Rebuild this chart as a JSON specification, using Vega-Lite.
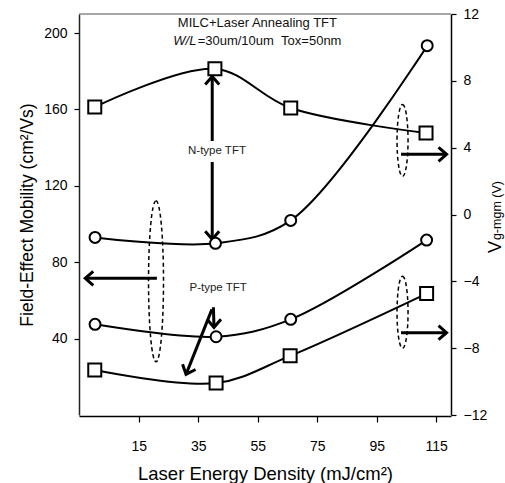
{
  "$schema": "https://vega.github.io/schema/vega-lite/v6.json",
  "width": 372,
  "height": 401,
  "autosize": {"type": "none"},
  "padding": {"left": 79, "top": 14, "right": 54, "bottom": 68},
  "config": {
    "view": {"stroke": null},
    "font": "Liberation Sans",
    "axis": {"grid": false, "domainColor": "#000", "tickColor": "#000", "labelColor": "#000", "titleColor": "#000", "labelFont": "Liberation Sans", "titleFont": "Liberation Sans", "titleFontWeight": "normal", "labelFontSize": 14, "domainWidth": 1.5, "tickWidth": 1.2}
  },
  "datasets": {
    "series": [
      {"x": 0.3, "y": 93.0, "type": "mobility", "device": "N"},
      {"x": 40.8, "y": 89.9, "type": "mobility", "device": "N"},
      {"x": 66.1, "y": 101.9, "type": "mobility", "device": "N"},
      {"x": 112.0, "y": 193.4, "type": "mobility", "device": "N"},
      {"x": 0.3, "y": 47.5, "type": "mobility", "device": "P"},
      {"x": 41.0, "y": 41.0, "type": "mobility", "device": "P"},
      {"x": 66.1, "y": 50.1, "type": "mobility", "device": "P"},
      {"x": 111.8, "y": 91.6, "type": "mobility", "device": "P"},
      {"x": 0.2, "y": 6.43, "type": "vg", "device": "N"},
      {"x": 40.6, "y": 8.72, "type": "vg", "device": "N"},
      {"x": 66.1, "y": 6.37, "type": "vg", "device": "N"},
      {"x": 111.6, "y": 4.88, "type": "vg", "device": "N"},
      {"x": 0.2, "y": -9.31, "type": "vg", "device": "P"},
      {"x": 41.0, "y": -10.09, "type": "vg", "device": "P"},
      {"x": 65.9, "y": -8.46, "type": "vg", "device": "P"},
      {"x": 111.8, "y": -4.73, "type": "vg", "device": "P"}
    ],
    "frametop": [
      {"x": -5.1, "y": 210, "x2": 120, "y2": 210}
    ],
    "arrows": [
      {"x": 39.7, "y": 177.3, "x2": 39.7, "y2": 143.5, "dir": "up"},
      {"x": 39.7, "y": 92.0, "x2": 39.7, "y2": 132.5, "dir": "down"},
      {"x": -3.0, "y": 71.6, "x2": 21.1, "y2": 71.6, "dir": "left"},
      {"x": 118.5, "y": 136.5, "x2": 103.2, "y2": 136.5, "dir": "right"},
      {"x": 118.5, "y": 43.1, "x2": 103.2, "y2": 43.1, "dir": "right"},
      {"x": 40.3, "y": 45.9, "x2": 40.1, "y2": 56.4, "dir": "down"},
      {"x": 30.9, "y": 21.3, "x2": 39.6, "y2": 55.3, "dir": "downleft"}
    ],
    "ellipses": [
      {"x": 20.8, "y": 70.0, "kind": "big"},
      {"x": 103.7, "y": 143.8, "kind": "small"},
      {"x": 103.7, "y": 53.8, "kind": "small"}
    ],
    "labels": [
      {"x": 54.9, "y": 205.3, "text": "MILC+Laser Annealing TFT", "kind": "head"},
      {"x": 34.4, "y": 196.0, "text": "W/L", "kind": "italic"},
      {"x": 34.8, "y": 196.0, "text": "=30um/10um \u00a0Tox=50nm", "kind": "headleft"},
      {"x": 41.3, "y": 138.5, "text": "N-type TFT", "kind": "label"},
      {"x": 41.7, "y": 66.5, "text": "P-type TFT", "kind": "label"},
      {"x": 136.7, "y": 84.8, "text": "V", "kind": "V"},
      {"x": 136.8, "y": 91.6, "text": "g-mgm (V)", "kind": "sub"}
    ]
  },
  "encoding": {
    "x": {"field": "x", "type": "quantitative", "scale": {"domain": [-5.1, 120], "nice": false, "zero": false},
      "axis": {"values": [15, 35, 55, 75, 95, 115], "title": "Laser Energy Density (mJ/cm²)", "titleFontSize": 18.5, "domain": true, "offset": 1, "tickSize": 6, "labelPadding": 17, "titlePadding": 11}}
  },
  "layer": [
    {
      "encoding": {
        "y": {"field": "y", "type": "quantitative", "scale": {"domain": [0, 210], "nice": false, "zero": false},
          "axis": {"orient": "left", "domain": true, "domainColor": "#222", "values": [40, 80, 120, 160, 200], "title": "Field-Effect Mobility (cm²/Vs)", "titleFontSize": 17.5, "tickSize": 5, "labelPadding": 7, "titlePadding": 7}}
      },
      "layer": [
        {"data": {"name": "frametop"},
          "mark": {"type": "rule", "strokeWidth": 1.5, "color": "#888"},
          "encoding": {"x2": {"field": "x2"}, "y2": {"field": "y2"}}},
        {"data": {"name": "series"}, "transform": [{"filter": "datum.type === 'mobility'"}],
          "mark": {"type": "line", "interpolate": "catmull-rom", "color": "#000", "strokeWidth": 2},
          "encoding": {"detail": {"field": "device", "type": "nominal"}}},
        {"data": {"name": "ellipses"}, "transform": [{"filter": "datum.kind === 'big'"}],
          "mark": {"type": "point", "shape": "M0,-1C0.0514,-1 0.093,-0.5523 0.093,0C0.093,0.5523 0.0514,1 0,1C-0.0514,1 -0.093,0.5523 -0.093,0C-0.093,-0.5523 -0.0514,-1 0,-1Z", "size": 25921, "filled": false, "stroke": "#000", "strokeWidth": 1.5, "strokeDash": [4, 3], "opacity": 1}},
        {"data": {"name": "ellipses"}, "transform": [{"filter": "datum.kind === 'small'"}],
          "mark": {"type": "point", "shape": "M0,-1C0.0845,-1 0.153,-0.5523 0.153,0C0.153,0.5523 0.0845,1 0,1C-0.0845,1 -0.153,0.5523 -0.153,0C-0.153,-0.5523 -0.0845,-1 0,-1Z", "size": 5184, "filled": false, "stroke": "#000", "strokeWidth": 1.5, "strokeDash": [4, 3], "opacity": 1}},
        {"data": {"name": "arrows"},
          "mark": {"type": "rule", "strokeWidth": 3, "color": "#000"},
          "encoding": {"x2": {"field": "x2"}, "y2": {"field": "y2"}}},
        {"data": {"name": "arrows"}, "transform": [{"filter": "datum.dir === 'up'"}],
          "mark": {"type": "point", "shape": "M-0.7,0.8L0,0L0.7,0.8", "size": 400, "filled": false, "stroke": "#000", "strokeWidth": 3, "opacity": 1, "angle": 0}},
        {"data": {"name": "arrows"}, "transform": [{"filter": "datum.dir === 'down'"}],
          "mark": {"type": "point", "shape": "M-0.7,0.8L0,0L0.7,0.8", "size": 400, "filled": false, "stroke": "#000", "strokeWidth": 3, "opacity": 1, "angle": 180}},
        {"data": {"name": "arrows"}, "transform": [{"filter": "datum.dir === 'left'"}],
          "mark": {"type": "point", "shape": "M-0.7,0.8L0,0L0.7,0.8", "size": 400, "filled": false, "stroke": "#000", "strokeWidth": 3, "opacity": 1, "angle": 270}},
        {"data": {"name": "arrows"}, "transform": [{"filter": "datum.dir === 'right'"}],
          "mark": {"type": "point", "shape": "M-0.7,0.8L0,0L0.7,0.8", "size": 400, "filled": false, "stroke": "#000", "strokeWidth": 3, "opacity": 1, "angle": 90}},
        {"data": {"name": "arrows"}, "transform": [{"filter": "datum.dir === 'downleft'"}],
          "mark": {"type": "point", "shape": "M-0.7,0.8L0,0L0.7,0.8", "size": 400, "filled": false, "stroke": "#000", "strokeWidth": 3, "opacity": 1, "angle": 202}},
        {"data": {"name": "series"}, "transform": [{"filter": "datum.type === 'mobility'"}],
          "mark": {"type": "point", "shape": "circle", "size": 120, "filled": true, "fill": "#fff", "stroke": "#000", "strokeWidth": 2, "opacity": 1}},
        {"data": {"name": "labels"}, "transform": [{"filter": "datum.kind === 'head'"}],
          "mark": {"type": "text", "fontSize": 13, "align": "center", "baseline": "middle", "color": "#111"},
          "encoding": {"text": {"field": "text"}}},
        {"data": {"name": "labels"}, "transform": [{"filter": "datum.kind === 'italic'"}],
          "mark": {"type": "text", "fontSize": 13, "fontStyle": "italic", "align": "right", "baseline": "middle", "color": "#111"},
          "encoding": {"text": {"field": "text"}}},
        {"data": {"name": "labels"}, "transform": [{"filter": "datum.kind === 'headleft'"}],
          "mark": {"type": "text", "fontSize": 13, "align": "left", "baseline": "middle", "color": "#111"},
          "encoding": {"text": {"field": "text"}}},
        {"data": {"name": "labels"}, "transform": [{"filter": "datum.kind === 'label'"}],
          "mark": {"type": "text", "fontSize": 11.5, "align": "center", "baseline": "middle", "color": "#222"},
          "encoding": {"text": {"field": "text"}}},
        {"data": {"name": "labels"}, "transform": [{"filter": "datum.kind === 'V'"}],
          "mark": {"type": "text", "fontSize": 18, "angle": 270, "align": "left", "baseline": "alphabetic", "color": "#000"},
          "encoding": {"text": {"field": "text"}}},
        {"data": {"name": "labels"}, "transform": [{"filter": "datum.kind === 'sub'"}],
          "mark": {"type": "text", "fontSize": 12.5, "angle": 270, "align": "left", "baseline": "alphabetic", "color": "#000"},
          "encoding": {"text": {"field": "text"}}}
      ]
    },
    {
      "encoding": {
        "y": {"field": "y", "type": "quantitative", "scale": {"domain": [-12, 12], "nice": false, "zero": false},
          "axis": {"orient": "right", "values": [-12, -8, -4, 0, 4, 8, 12], "title": null, "tickSize": 5, "labelPadding": 7}}
      },
      "layer": [
        {"data": {"name": "series"}, "transform": [{"filter": "datum.type === 'vg'"}],
          "mark": {"type": "line", "interpolate": "catmull-rom", "color": "#000", "strokeWidth": 2},
          "encoding": {"detail": {"field": "device", "type": "nominal"}}},
        {"data": {"name": "series"}, "transform": [{"filter": "datum.type === 'vg'"}],
          "mark": {"type": "point", "shape": "square", "size": 169, "filled": true, "fill": "#fff", "stroke": "#000", "strokeWidth": 2, "opacity": 1}}
      ]
    }
  ],
  "resolve": {"scale": {"y": "independent"}}
}
